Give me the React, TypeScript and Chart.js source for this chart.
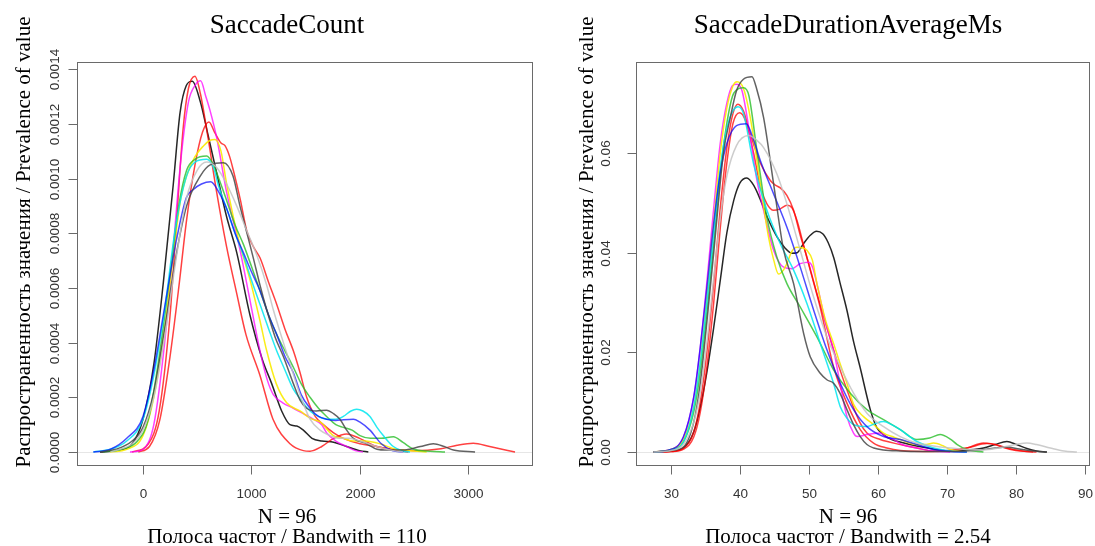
import React, { useEffect, useRef } from "react";
import { Chart, registerables } from "chart.js";
Chart.register(...registerables);

// ---------- Panel 1: SaccadeCount ----------
const countTitle = "SaccadeCount";
const countXTicks = [0, 1000, 2000, 3000];
const countXTickLabels = ["0", "1000", "2000", "3000"];
const countYTicks = [0, 0.0002, 0.0004, 0.0006, 0.0008, 0.001, 0.0012, 0.0014];
const countYTickLabels = ["0.0000", "0.0002", "0.0004", "0.0006", "0.0008", "0.0010", "0.0012", "0.0014"];
const countN = "N = 96";
const countBw = "Полоса частот / Bandwith = 110";

const countBlack = [[-397, 0], [-250, 0.000005], [-100, 0.00003], [0, 0.00012], [100, 0.00032], [188, 0.00062], [280, 0.00098], [342, 0.00124], [400, 0.00134], [455, 0.001356], [530, 0.00128], [600, 0.00116], [680, 0.00102], [772, 0.00086], [865, 0.00073], [988, 0.0005], [1100, 0.00034], [1188, 0.00025], [1280, 0.00015], [1357, 0.0001], [1420, 0.000095], [1480, 0.00008], [1560, 0.00005], [1650, 0.00004], [1760, 0.000036], [1880, 0.00002], [2000, 0.000005], [2080, 0]];
const countRedA = [[-100, 0], [50, 0.00003], [150, 0.00015], [250, 0.0005], [311, 0.00085], [370, 0.00118], [420, 0.00133], [480, 0.001374], [530, 0.00131], [600, 0.00115], [680, 0.00095], [772, 0.00075], [865, 0.00058], [950, 0.00043], [1080, 0.00028], [1200, 0.00012], [1357, 0.00003], [1480, 0.000005], [1542, 0.000003], [1650, 0.00002], [1760, 0.00005], [1880, 0.000066], [2000, 0.00005], [2157, 0.00002], [2311, 0.00001], [2500, 0.000005], [2750, 0.000012], [2900, 0.000025], [3049, 0.000032], [3200, 0.00002], [3434, 0]];
const countRedB = [[-43, 0], [60, 0.00002], [157, 0.00012], [250, 0.00035], [330, 0.0006], [403, 0.00085], [480, 0.00105], [550, 0.00117], [609, 0.001207], [660, 0.00117], [720, 0.00113], [757, 0.00112], [800, 0.00108], [834, 0.00103], [900, 0.00092], [957, 0.00081], [1020, 0.00075], [1080, 0.00071], [1160, 0.00062], [1234, 0.00054], [1310, 0.00045], [1388, 0.00037], [1450, 0.00029], [1511, 0.0002], [1590, 0.00013], [1665, 0.0001], [1760, 0.00007], [1849, 0.00005], [2003, 0.00003], [2157, 0.00002], [2300, 0.000008], [2450, 0]];
const countMagenta = [[-120, 0], [0, 0.00001], [100, 0.0001], [200, 0.0004], [280, 0.00075], [350, 0.00107], [420, 0.00128], [480, 0.00134], [532, 0.001357], [580, 0.0013], [618, 0.00125], [680, 0.00115], [772, 0.00095], [895, 0.00074], [990, 0.00055], [1080, 0.00037], [1150, 0.00026], [1203, 0.00021], [1290, 0.00018], [1388, 0.00016], [1480, 0.00014], [1572, 0.00012], [1650, 0.0001], [1695, 0.00007], [1780, 0.00004], [1880, 0.00002], [1960, 0.000005], [2030, 0]];
const countYellow = [[-305, 0], [-150, 0.00001], [0, 0.00006], [100, 0.0002], [200, 0.00045], [280, 0.00072], [350, 0.00093], [403, 0.00101], [480, 0.00108], [560, 0.00112], [620, 0.00114], [665, 0.001143], [720, 0.0011], [772, 0.00098], [834, 0.00086], [900, 0.00075], [988, 0.00063], [1080, 0.00048], [1142, 0.00037], [1230, 0.00025], [1326, 0.00018], [1449, 0.00015], [1560, 0.00012], [1634, 0.00011], [1757, 0.00006], [1850, 0.00005], [1942, 0.00004], [2050, 0.00004], [2188, 0.00003], [2330, 0.00001], [2465, 0.000005], [2618, 0]];
const countGreen = [[-366, 0], [-200, 0.00001], [-50, 0.00004], [50, 0.00012], [150, 0.00035], [250, 0.00065], [330, 0.0009], [403, 0.00103], [480, 0.00107], [588, 0.001082], [650, 0.00105], [700, 0.001], [772, 0.00092], [850, 0.00083], [926, 0.00076], [1000, 0.00068], [1080, 0.00059], [1160, 0.0005], [1234, 0.00043], [1310, 0.00037], [1388, 0.00031], [1460, 0.00025], [1542, 0.0002], [1620, 0.00016], [1695, 0.00013], [1780, 0.0001], [1849, 0.00009], [1930, 0.00008], [2003, 0.00006], [2100, 0.00005], [2200, 0.00005], [2311, 0.000056], [2400, 0.000035], [2500, 0.00001], [2650, 0.000003], [2788, 0]];
const countCyan = [[-458, 0], [-300, 0.00001], [-150, 0.00004], [0, 0.00012], [100, 0.00028], [200, 0.00052], [300, 0.00082], [403, 0.00101], [480, 0.00106], [588, 0.00107], [650, 0.00104], [700, 0.00097], [772, 0.00089], [850, 0.0008], [926, 0.00072], [1000, 0.00063], [1080, 0.00054], [1160, 0.00045], [1234, 0.00037], [1310, 0.0003], [1388, 0.00023], [1460, 0.00019], [1542, 0.00015], [1620, 0.00013], [1695, 0.00012], [1780, 0.00012], [1849, 0.00013], [1920, 0.00015], [1972, 0.000156], [2030, 0.00015], [2095, 0.00013], [2160, 0.00009], [2218, 0.00006], [2311, 0.00002], [2403, 0.000003], [2465, 0]];
const countBlue = [[-458, 0], [-300, 0.00001], [-150, 0.00005], [0, 0.00013], [100, 0.0003], [200, 0.00053], [311, 0.00078], [400, 0.00093], [465, 0.00096], [540, 0.00098], [625, 0.000988], [700, 0.00095], [772, 0.00089], [850, 0.0008], [926, 0.00073], [1000, 0.00066], [1080, 0.00059], [1160, 0.0005], [1234, 0.00043], [1310, 0.00035], [1388, 0.00029], [1460, 0.00021], [1542, 0.00016], [1620, 0.00013], [1695, 0.00012], [1780, 0.000115], [1849, 0.000118], [1942, 0.00012], [2000, 0.00011], [2095, 0.00008], [2200, 0.00003], [2300, 0.000005], [2403, 0]];
const countDarkGray = [[-397, 0], [-250, 0.00001], [-100, 0.00004], [0, 0.00009], [100, 0.00022], [200, 0.00045], [311, 0.00073], [403, 0.0009], [530, 0.00101], [620, 0.00105], [742, 0.001058], [830, 0.00101], [895, 0.0009], [960, 0.0008], [1018, 0.00071], [1080, 0.00061], [1142, 0.00052], [1220, 0.00042], [1295, 0.00035], [1388, 0.00025], [1450, 0.00019], [1511, 0.00016], [1600, 0.00015], [1695, 0.000153], [1760, 0.00014], [1818, 0.00012], [1880, 0.00008], [1942, 0.00005], [2065, 0.00003], [2160, 0.00001], [2249, 0.000007], [2400, 0.000007], [2560, 0.00002], [2680, 0.00003], [2780, 0.00002], [2865, 0.000007], [3065, 0]];
const countLightGray = [[-300, 0], [-100, 0.00003], [0, 0.00008], [100, 0.0002], [200, 0.00042], [311, 0.00072], [403, 0.00093], [500, 0.00103], [588, 0.00106], [680, 0.00104], [772, 0.00098], [865, 0.0009], [957, 0.00081], [1050, 0.00072], [1142, 0.00061], [1203, 0.00052], [1280, 0.00042], [1360, 0.00032], [1449, 0.00021], [1542, 0.00012], [1634, 0.00008], [1726, 0.00006], [1800, 0.00005], [1900, 0.00005], [2003, 0.00004], [2157, 0.00002], [2311, 0.000005], [2400, 0]];

// ---------- Panel 2: SaccadeDurationAverageMs ----------
const durTitle = "SaccadeDurationAverageMs";
const durXTicks = [30, 40, 50, 60, 70, 80, 90];
const durXTickLabels = ["30", "40", "50", "60", "70", "80", "90"];
const durYTicks = [0, 0.02, 0.04, 0.06];
const durYTickLabels = ["0.00", "0.02", "0.04", "0.06"];
const durN = "N = 96";
const durBw = "Полоса частот / Bandwith = 2.54";

const durBlack = [[27.5, 0], [30, 0.0002], [31.8, 0.0008], [33.3, 0.004], [34.25, 0.009], [35.2, 0.016], [36.2, 0.025], [37.2, 0.035], [38.1, 0.044], [39.1, 0.0505], [40.0, 0.054], [41.0, 0.055], [42.0, 0.0535], [43.0, 0.0505], [44.0, 0.047], [45.4, 0.0431], [46.5, 0.041], [47.5, 0.0399], [48.3, 0.04], [49.2, 0.0418], [50.2, 0.0435], [51.1, 0.0443], [52.0, 0.0438], [52.8, 0.042], [53.6, 0.039], [54.5, 0.034], [55.5, 0.0285], [56.5, 0.022], [57.4, 0.0171], [58.9, 0.0085], [59.8, 0.005], [60.8, 0.0035], [62, 0.0025], [63.2, 0.002], [65.6, 0.0012], [68.1, 0.0006], [70.5, 0.0002], [73, 0.0004], [75.3, 0.0008], [77, 0.0015], [78.7, 0.0021], [80.1, 0.0015], [81.6, 0.0007], [83, 0.0002], [84.5, 0]];
const durDarkGray = [[27.5, 0], [30, 0.0003], [31.8, 0.001], [33.3, 0.006], [34.25, 0.0138], [35.2, 0.026], [36.2, 0.04], [36.67, 0.047], [37.6, 0.06], [38.6, 0.0671], [39.5, 0.0725], [40.5, 0.0748], [41.74, 0.0753], [42.4, 0.073], [43.43, 0.0671], [44.88, 0.0538], [46.33, 0.0405], [47.78, 0.0338], [49.23, 0.0238], [50.19, 0.0191], [51.64, 0.0158], [52.6, 0.0145], [53.57, 0.0138], [54.5, 0.0118], [55.51, 0.0085], [56.47, 0.0055], [57.44, 0.0031], [58.41, 0.0015], [59.4, 0.0008], [60.8, 0.0004], [63.24, 0.0002], [66, 0.0001], [70, 0.0001], [74, 0.0003], [77, 0.0008], [78.7, 0.001], [80.5, 0.0006], [82.5, 0.0002], [84.5, 0]];
const durYellow = [[27.5, 0], [30, 0.0005], [31.8, 0.0025], [33.3, 0.009], [34.25, 0.018], [35.2, 0.031], [36.2, 0.046], [37.15, 0.06], [38.1, 0.069], [39.0, 0.0735], [39.57, 0.0743], [40.5, 0.073], [41.5, 0.0671], [42.95, 0.0538], [44.15, 0.0431], [44.9, 0.0385], [45.6, 0.0357], [46.3, 0.0365], [46.81, 0.0378], [47.5, 0.0402], [48.26, 0.0411], [49.0, 0.041], [49.71, 0.0405], [50.5, 0.0385], [51.16, 0.0338], [52.4, 0.0265], [53.57, 0.0218], [54.5, 0.0178], [55.51, 0.0138], [56.5, 0.0095], [57.92, 0.0071], [59.4, 0.0055], [60.82, 0.0038], [62.27, 0.003], [63.24, 0.0025], [65.65, 0.0015], [67, 0.0015], [68.07, 0.0018], [69.5, 0.0012], [70.48, 0.0005], [72, 0.0001], [72.9, 0]];
const durMagenta = [[27.5, 0], [29.4, 0.0003], [31.8, 0.003], [33.3, 0.011], [34.25, 0.021], [35.2, 0.034], [36.2, 0.049], [37.15, 0.062], [38.1, 0.07], [38.9, 0.0735], [39.47, 0.0738], [40.3, 0.0725], [41.5, 0.0631], [42.4, 0.055], [43.43, 0.0485], [44.88, 0.0405], [46.33, 0.0371], [47.54, 0.0368], [48.74, 0.0378], [49.95, 0.0381], [50.5, 0.0372], [51.16, 0.0338], [52.4, 0.026], [53.57, 0.0205], [54.54, 0.0135], [55.51, 0.0071], [56.47, 0.0038], [57.0, 0.0031], [58.41, 0.0035], [59.4, 0.0037], [60.34, 0.0038], [61.3, 0.003], [62.27, 0.0025], [63.5, 0.0015], [65.65, 0.0008], [68, 0.0002], [70.5, 0]];
const durGreen = [[27.5, 0], [30, 0.0004], [31.8, 0.002], [33.3, 0.008], [34.25, 0.016], [35.2, 0.028], [36.2, 0.042], [37.15, 0.056], [38.1, 0.066], [39.1, 0.072], [40.53, 0.0731], [41.3, 0.0715], [42.46, 0.0605], [43.91, 0.0471], [45.36, 0.0391], [46.81, 0.0338], [48.74, 0.0291], [51.16, 0.0231], [53.57, 0.0165], [56.0, 0.0118], [58.41, 0.0085], [60.82, 0.0065], [63.24, 0.0045], [65.65, 0.0025], [67.5, 0.0028], [69.03, 0.0035], [70.5, 0.0026], [71.5, 0.0015], [72.9, 0.0005], [75.3, 0]];
const durCyan = [[27.5, 0], [30, 0.0004], [31.8, 0.002], [33.3, 0.009], [34.25, 0.018], [35.2, 0.03], [36.2, 0.044], [37.15, 0.057], [38.1, 0.065], [39.0, 0.0685], [39.71, 0.0693], [40.5, 0.068], [41.98, 0.0578], [43.91, 0.0485], [45.85, 0.0418], [47.78, 0.0365], [49.71, 0.0298], [51.64, 0.0218], [53.57, 0.0138], [54.54, 0.0091], [55.5, 0.0068], [56.47, 0.0055], [58.41, 0.0051], [59.6, 0.0057], [60.82, 0.0061], [62, 0.0055], [63.24, 0.0045], [64.5, 0.0032], [65.65, 0.0021], [68.07, 0.0008], [70.5, 0.0002], [72.9, 0]];
const durRedA = [[27.5, 0], [30, 0.0001], [31.84, 0.0008], [33.3, 0.004], [34.25, 0.01], [35.2, 0.02], [36.2, 0.034], [37.15, 0.049], [38.1, 0.061], [39.0, 0.068], [39.71, 0.0698], [40.5, 0.0685], [41.5, 0.0638], [42.95, 0.058], [44.4, 0.0545], [45.2, 0.0535], [45.85, 0.053], [46.8, 0.0515], [47.78, 0.0485], [48.74, 0.0435], [49.71, 0.0391], [51.16, 0.0318], [52.61, 0.025], [53.57, 0.0205], [55.51, 0.0125], [57.44, 0.0058], [58.41, 0.0038], [60.34, 0.0025], [63.24, 0.0015], [65.65, 0.0008], [68.07, 0.0002], [70.5, 0.0002], [72.9, 0.0008], [75.31, 0.0018], [77.0, 0.0015], [77.73, 0.0011], [80, 0.0003], [82.5, 0]];
const durRedB = [[27.5, 0], [30, 0.0001], [31.84, 0.0006], [33.3, 0.003], [34.25, 0.008], [35.2, 0.017], [36.2, 0.03], [37.15, 0.045], [38.1, 0.058], [39.0, 0.066], [39.95, 0.0681], [40.8, 0.0665], [41.98, 0.06], [43.0, 0.053], [43.91, 0.0498], [44.88, 0.0485], [45.85, 0.0488], [46.81, 0.0495], [47.54, 0.049], [48.26, 0.0465], [49.23, 0.0415], [50.19, 0.0365], [51.64, 0.029], [53.57, 0.0171], [55.51, 0.0098], [57.44, 0.0045], [59.37, 0.0018], [61.3, 0.0008], [63.24, 0.0003], [68.07, 0.0001], [72.9, 0.0008], [75.8, 0.0017], [77.3, 0.0014], [78.7, 0.0008], [81, 0.0002], [83, 0]];
const durBlue = [[27.5, 0], [29.4, 0.0003], [31.8, 0.003], [33.3, 0.011], [34.25, 0.021], [35.2, 0.033], [36.2, 0.046], [37.15, 0.056], [38.12, 0.062], [39.5, 0.0655], [40.92, 0.0659], [42.0, 0.0625], [42.95, 0.0585], [44.88, 0.0518], [46.81, 0.0451], [48.74, 0.0371], [50.68, 0.0285], [52.61, 0.0205], [54.54, 0.0138], [56.47, 0.0085], [58.41, 0.0051], [60.82, 0.0031], [63.24, 0.0025], [65.65, 0.0015], [68.07, 0.0005], [70.5, 0.0001], [72.9, 0]];
const durLightGray = [[27.5, 0], [30, 0.0003], [31.8, 0.0015], [33.3, 0.006], [34.25, 0.012], [35.2, 0.022], [36.2, 0.035], [37.15, 0.047], [38.12, 0.0555], [39.5, 0.0615], [41.26, 0.0635], [42.5, 0.0625], [43.43, 0.0611], [45.36, 0.0558], [46.81, 0.0498], [48.74, 0.0405], [50.68, 0.0311], [52.61, 0.0231], [54.54, 0.0171], [56.47, 0.0118], [58.41, 0.0078], [60.82, 0.0051], [63.24, 0.0031], [65.65, 0.0018], [68.07, 0.0012], [70.5, 0.0008], [72.9, 0.0005], [75.3, 0.0004], [77.5, 0.0008], [80, 0.0015], [81.6, 0.0018], [83, 0.0015], [85, 0.0008], [87, 0.0002], [88.84, 0]];

const yAxisTitle = "Распространенность значения / Prevalence of value";

const C = {
  black: "rgba(0,0,0,0.85)",
  dark: "rgba(70,70,70,0.85)",
  light: "rgba(195,195,195,0.85)",
  red: "rgba(255,0,0,0.75)",
  magenta: "rgba(255,0,255,0.75)",
  yellow: "rgba(250,235,0,0.9)",
  green: "rgba(40,190,40,0.8)",
  cyan: "rgba(0,230,240,0.85)",
  blue: "rgba(0,0,255,0.7)",
};

const rDecor = {
  id: "rDecor",
  beforeDatasetsDraw(chart: any, _a: any, o: any) {
    const { ctx, chartArea: a, scales } = chart;
    const y0 = Math.round(scales.y.getPixelForValue(0)) + 0.5;
    ctx.save();
    ctx.strokeStyle = "#e6e6e6";
    ctx.lineWidth = 1;
    ctx.beginPath();
    ctx.moveTo(a.left, y0);
    ctx.lineTo(a.right, y0);
    ctx.stroke();
    ctx.restore();
  },
  afterDraw(chart: any, _a: any, o: any) {
    const { ctx, chartArea: a, scales } = chart;
    const xs = scales.x;
    const ys = scales.y;
    ctx.save();
    ctx.strokeStyle = "#6a6a6a";
    ctx.lineWidth = 1;
    ctx.strokeRect(Math.round(a.left) + 0.5, Math.round(a.top) + 0.5, Math.round(a.right - a.left) - 1, Math.round(a.bottom - a.top) - 1);
    // x ticks
    ctx.fillStyle = "#333";
    ctx.font = '13.5px "Liberation Sans", Arial, sans-serif';
    ctx.textAlign = "center";
    ctx.textBaseline = "alphabetic";
    const bottom = Math.round(a.bottom) - 0.5;
    o.xTicks.forEach((v: number, i: number) => {
      const px = Math.round(xs.getPixelForValue(v)) + 0.5;
      ctx.beginPath();
      ctx.moveTo(px, bottom);
      ctx.lineTo(px, bottom + 9);
      ctx.stroke();
      ctx.fillText(o.xTickLabels[i], px, o.xLabelY);
    });
    const left = Math.round(a.left) + 0.5;
    o.yTicks.forEach((v: number, i: number) => {
      const py = Math.round(ys.getPixelForValue(v)) + 0.5;
      ctx.beginPath();
      ctx.moveTo(left - 9, py);
      ctx.lineTo(left, py);
      ctx.stroke();
      ctx.save();
      ctx.translate(o.yLabelX, py);
      ctx.rotate(-Math.PI / 2);
      ctx.fillText(o.yTickLabels[i], 0, 0);
      ctx.restore();
    });
    // titles
    ctx.fillStyle = "#000";
    ctx.font = '27px "Liberation Serif", "Times New Roman", serif';
    ctx.fillText(o.title, o.cx, 33);
    ctx.font = '21px "Liberation Serif", "Times New Roman", serif';
    ctx.fillText(o.n, o.cx, 523);
    ctx.fillText(o.bw, o.cx, 543);
    ctx.save();
    ctx.translate(o.yTitleX, 242);
    ctx.rotate(-Math.PI / 2);
    ctx.fillText(o.yTitle, 0, 0);
    ctx.restore();
    ctx.restore();
  },
};

function makeDatasets(list: [number[][], string][]) {
  return list.map(([pts, color]) => ({
    data: pts.map(([x, y]) => ({ x, y })),
    borderColor: color,
    borderWidth: 1.5,
    pointRadius: 0,
    fill: false,
    cubicInterpolationMode: "monotone" as const,
    tension: 0.4,
  }));
}

function Panel(props: { left: number; width: number; cfg: any }) {
  const ref = useRef<HTMLCanvasElement>(null);
  useEffect(() => {
    const chart = new Chart(ref.current as HTMLCanvasElement, props.cfg);
    return () => chart.destroy();
  }, []);
  return (
    <canvas
      ref={ref}
      width={props.width}
      height={546}
      style={{ position: "absolute", left: props.left, top: 0, width: props.width, height: 546 }}
    />
  );
}

function config(datasets: any[], pad: any, xr: number[], yr: number[], decor: any) {
  return {
    type: "line",
    data: { datasets },
    options: {
      animation: false,
      responsive: false,
      events: [],
      layout: { padding: pad },
      plugins: { legend: { display: false }, tooltip: { enabled: false }, rDecor: decor },
      scales: {
        x: { type: "linear", display: false, min: xr[0], max: xr[1] },
        y: { type: "linear", display: false, min: yr[0], max: yr[1] },
      },
    },
    plugins: [rDecor],
  };
}

export default function App() {
  const leftCfg = config(
    makeDatasets([
      [countLightGray, C.light],
      [countDarkGray, C.dark],
      [countBlue, C.blue],
      [countCyan, C.cyan],
      [countGreen, C.green],
      [countYellow, C.yellow],
      [countMagenta, C.magenta],
      [countRedB, C.red],
      [countRedA, C.red],
      [countBlack, C.black],
    ]),
    { left: 77, right: 15, top: 62, bottom: 80 },
    [-609, 3600],
    [-0.0000512, 0.001426],
    {
      title: countTitle, n: countN, bw: countBw, yTitle: yAxisTitle, cx: 287, yTitleX: 30,
      xTicks: countXTicks, xTickLabels: countXTickLabels, yTicks: countYTicks, yTickLabels: countYTickLabels,
      xLabelY: 498, yLabelX: 59,
    }
  );
  const rightCfg = config(
    makeDatasets([
      [durLightGray, C.light],
      [durDarkGray, C.dark],
      [durBlue, C.blue],
      [durCyan, C.cyan],
      [durGreen, C.green],
      [durYellow, C.yellow],
      [durMagenta, C.magenta],
      [durRedB, C.red],
      [durRedA, C.red],
      [durBlack, C.black],
    ]),
    { left: 88, right: 5, top: 62, bottom: 80 },
    [24.93, 90.75],
    [-0.00281, 0.07827],
    {
      title: durTitle, n: durN, bw: durBw, yTitle: yAxisTitle, cx: 300, yTitleX: 45,
      xTicks: durXTicks, xTickLabels: durXTickLabels, yTicks: durYTicks, yTickLabels: durYTickLabels,
      xLabelY: 498, yLabelX: 62,
    }
  );
  return (
    <div style={{ position: "absolute", left: 0, top: 0, width: 1095, height: 546, background: "#fff", overflow: "hidden" }}>
      <Panel left={0} width={548} cfg={leftCfg} />
      <Panel left={548} width={547} cfg={rightCfg} />
    </div>
  );
}
